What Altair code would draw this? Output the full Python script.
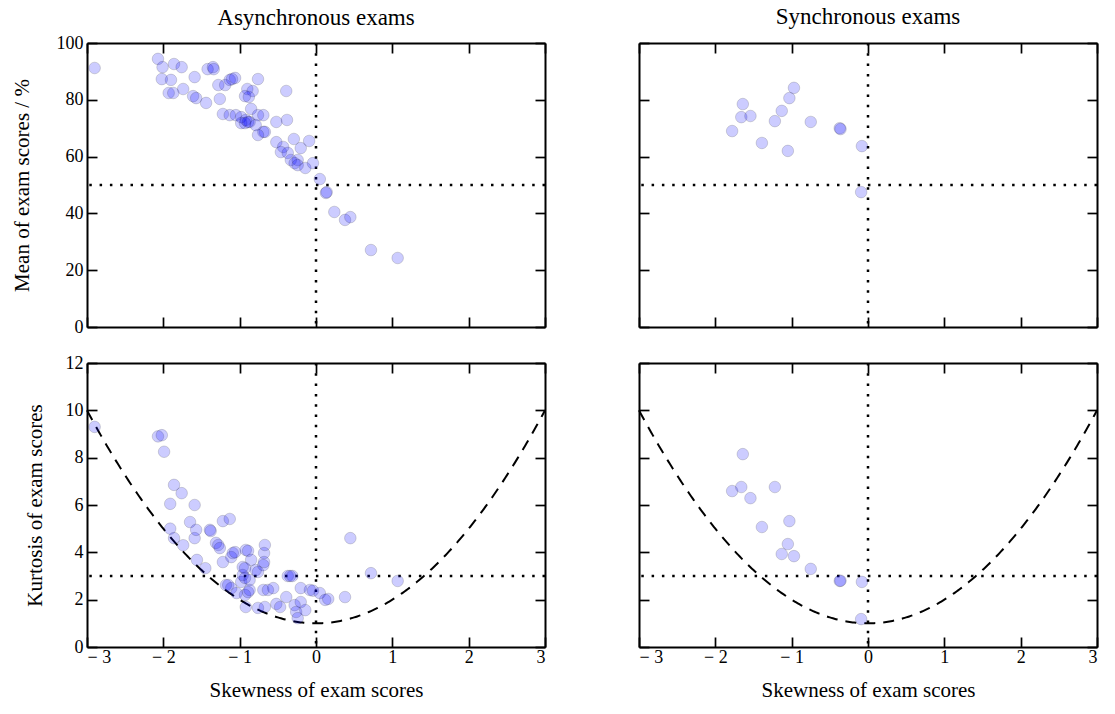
import altair as alt
import pandas as pd

# ---- data ----
# Asynchronous exams: skewness vs mean (top-left)
async_mean_skew = [-2.90, -2.07, -2.01, -1.86, -1.76, -2.02, -1.90, -1.93, -1.87, -1.74,
                   -1.59, -1.61, -1.57, -1.44, -1.42, -1.35, -1.34, -1.26, -1.28, -1.19,
                   -1.13, -1.10, -1.06, -0.76, -0.90, -0.83, -0.93, -0.88, -0.39, -1.22,
                   -1.13, -1.05, -0.98, -0.92, -0.87, -0.85, -0.76, -0.69, -0.98, -0.93,
                   -0.89, -0.79, -0.69, -0.67, -0.76, -0.52, -0.38, -0.52, -0.43, -0.29,
                   -0.09, -0.20, -0.46, -0.37, -0.33, -0.24, -0.28, -0.24, -0.14, -0.04,
                   0.05, 0.13, 0.14, 0.24, 0.38, 0.45, 0.72, 1.07]
async_mean = [91.2, 94.4, 91.5, 92.6, 91.5, 87.3, 87.0, 82.4, 82.4, 83.8,
              88.0, 81.3, 80.6, 78.9, 90.8, 91.5, 90.8, 80.3, 85.2, 85.2,
              87.0, 87.3, 87.7, 87.3, 83.8, 83.1, 81.3, 81.0, 83.1, 75.0,
              74.6, 74.6, 73.9, 72.9, 72.2, 76.8, 74.6, 74.6, 71.8, 71.8,
              72.2, 71.1, 68.7, 68.7, 67.6, 72.2, 72.9, 65.1, 63.4, 66.2,
              65.5, 63.0, 61.6, 61.3, 58.8, 58.8, 57.7, 57.0, 56.0, 57.7,
              52.1, 47.2, 47.5, 40.5, 37.7, 38.7, 27.1, 24.3]

# Asynchronous exams: skewness vs kurtosis (bottom-left)
async_kurt_skew = [-2.90, -2.07, -2.02, -1.99, -1.91, -1.91, -1.86, -1.86, -1.76, -1.74,
                   -1.65, -1.59, -1.59, -1.57, -1.56, -1.45, -1.39, -1.38, -1.31, -1.28,
                   -1.26, -1.22, -1.22, -1.18, -1.15, -1.13, -1.11, -1.11, -1.09, -1.06,
                   -1.04, -0.98, -0.96, -0.96, -0.93, -0.93, -0.93, -0.92, -0.92, -0.89,
                   -0.89, -0.87, -0.87, -0.85, -0.79, -0.76, -0.76, -0.69, -0.69, -0.68,
                   -0.68, -0.67, -0.67, -0.63, -0.56, -0.52, -0.47, -0.39, -0.37, -0.34,
                   -0.31, -0.28, -0.26, -0.24, -0.20, -0.20, -0.14, -0.08, -0.04, 0.05,
                   0.12, 0.16, 0.38, 0.45, 0.72, 1.07]
async_kurt = [9.30, 8.90, 8.95, 8.25, 6.05, 5.00, 6.85, 4.60, 6.50, 4.30,
              5.28, 6.00, 4.60, 4.95, 3.68, 3.33, 4.95, 4.90, 4.40, 4.31,
              4.18, 5.32, 3.59, 2.62, 2.62, 5.41, 3.80, 2.49, 3.97, 4.01,
              2.28, 2.75, 3.38, 3.04, 2.20, 3.33, 2.92, 4.10, 1.69, 4.06,
              2.32, 2.83, 2.41, 3.68, 3.25, 3.17, 1.65, 3.46, 2.41, 3.97,
              3.59, 4.31, 1.69, 2.41, 2.49, 1.82, 1.69, 2.11, 3.00, 3.00,
              3.00, 1.77, 1.48, 1.22, 1.90, 2.49, 1.56, 2.41, 2.38, 2.28,
              1.99, 2.03, 2.11, 4.60, 3.12, 2.79]

# Synchronous exams
sync_skew = [-1.78, -1.64, -1.66, -1.54, -1.39, -1.22, -1.13, -1.05, -1.03, -0.97,
             -0.75, -0.37, -0.36, -0.08, -0.09]
sync_mean = [69.0, 78.5, 73.9, 74.3, 64.8, 72.5, 76.1, 62.0, 80.6, 84.2,
             72.2, 70.0, 69.7, 63.7, 47.5]
sync_kurt = [6.59, 8.15, 6.76, 6.29, 5.07, 6.76, 3.93, 4.35, 5.32, 3.84,
             3.30, 2.79, 2.80, 2.75, 1.18]

x_ticks = [-3, -2, -1, 0, 1, 2, 3]
mean_ticks = [0, 20, 40, 60, 80, 100]
kurt_ticks = [0, 2, 4, 6, 8, 10, 12]

titles = ["Asynchronous exams", "Synchronous exams"]
x_title = "Skewness of exam scores"
mean_title = "Mean of exam scores / %"
kurt_title = "Kurtosis of exam scores"

# ---- style ----
W, H = 458, 284
FONT = "Liberation Serif"
TICK = 10

xs = alt.Scale(domain=[-3, 3], nice=False, zero=False)
ys_mean = alt.Scale(domain=[0, 100], nice=False)
ys_kurt = alt.Scale(domain=[0, 12], nice=False)

label_expr = "datum.value < 0 ? '\u2212 ' + abs(datum.value) : datum.label"

# inward ticks: a negative tick length given as an expression
base_axis = dict(ticks=True, tickSize={"expr": str(-TICK)}, tickWidth=1.7,
                 tickColor="black", tickOpacity=1,
                 domain=True, domainColor="black", domainWidth=2,
                 grid=False, labelFont=FONT, titleFont=FONT, labelColor="black",
                 titleColor="black", labelFontSize=18, titleFontSize=21,
                 titleFontWeight="normal")


def panel(skew, vals, yscale, yticks, yref, top, left, ytitle, title=None,
          ytitle_pad=20, title_offset=6):
    df = pd.DataFrame({"s": skew, "v": vals})

    if top:
        xaxis = alt.Axis(values=x_ticks, labels=False, title=None, orient="bottom", **base_axis)
    else:
        xaxis = alt.Axis(values=x_ticks, labelExpr=label_expr, labelPadding=11,
                         title=x_title, titlePadding=13, orient="bottom", **base_axis)
    if left:
        yaxis = alt.Axis(values=yticks, labelPadding=14, title=ytitle,
                         titlePadding=ytitle_pad, orient="left", **base_axis)
    else:
        yaxis = alt.Axis(values=yticks, labels=False, title=None, orient="left", **base_axis)

    xaxis2 = alt.Axis(values=x_ticks, labels=False, title=None, orient="top", **base_axis)
    yaxis2 = alt.Axis(values=yticks, labels=False, title=None, orient="right", **base_axis)

    # reference lines
    vref = alt.Chart(pd.DataFrame({"r": [0]})).mark_rule(
        color="black", strokeWidth=2.5, strokeDash=[2.5, 7.8]
    ).encode(x=alt.X("r:Q", scale=xs, axis=None))
    href = alt.Chart(pd.DataFrame({"r": [yref]})).mark_rule(
        color="black", strokeWidth=2.5, strokeDash=[2.5, 7.8]
    ).encode(y=alt.Y("r:Q", scale=yscale, axis=None))

    layers = [vref, href]
    if not top:
        curve = alt.Chart(alt.sequence(-3, 3.001, 0.02, as_="c")).transform_calculate(
            k="datum.c * datum.c + 1"
        ).mark_line(color="black", strokeWidth=2, strokeDash=[11, 8]).encode(
            x=alt.X("c:Q", scale=xs, axis=None),
            y=alt.Y("k:Q", scale=yscale, axis=None))
        layers.append(curve)

    # invisible carrier layer for the top/right frame axes
    frame = alt.Chart(df).mark_point(opacity=0).encode(
        x=alt.X("s:Q", scale=xs, axis=xaxis2),
        y=alt.Y("v:Q", scale=yscale, axis=yaxis2))

    pts = alt.Chart(df).mark_circle(
        size=135, fill="#0000ff", fillOpacity=0.2, stroke="#000000",
        strokeOpacity=0.15, strokeWidth=1, opacity=1
    ).encode(x=alt.X("s:Q", scale=xs, axis=xaxis),
             y=alt.Y("v:Q", scale=yscale, axis=yaxis))

    layers += [frame, pts]

    ch = alt.layer(*layers).resolve_axis(x="independent", y="independent").properties(
        width=W, height=H)
    if title:
        ch = ch.properties(title=alt.TitleParams(title, fontSize=23, fontWeight="normal",
                                                 font=FONT, anchor="middle",
                                                 offset=title_offset, frame="group",
                                                 color="black"))
    return ch


tl_p = panel(async_mean_skew, async_mean, ys_mean, mean_ticks, 50, True, True, mean_title,
             title=titles[0], ytitle_pad=24, title_offset=4)
tr_p = panel(sync_skew, sync_mean, ys_mean, mean_ticks, 50, True, False, None,
             title=titles[1], title_offset=13)
bl_p = panel(async_kurt_skew, async_kurt, ys_kurt, kurt_ticks, 3, False, True, kurt_title,
             ytitle_pad=20)
br_p = panel(sync_skew, sync_kurt, ys_kurt, kurt_ticks, 3, False, False, None)

chart = alt.concat(
    tl_p, tr_p, bl_p, br_p, columns=2, spacing={"row": 36, "column": 94}, bounds="flush"
).properties(
    padding={"left": 10, "top": 5, "right": 5, "bottom": 3}
).configure(
    font=FONT, background="white"
)

chart.save("out.html", embed_options={"renderer": "svg", "actions": False})
